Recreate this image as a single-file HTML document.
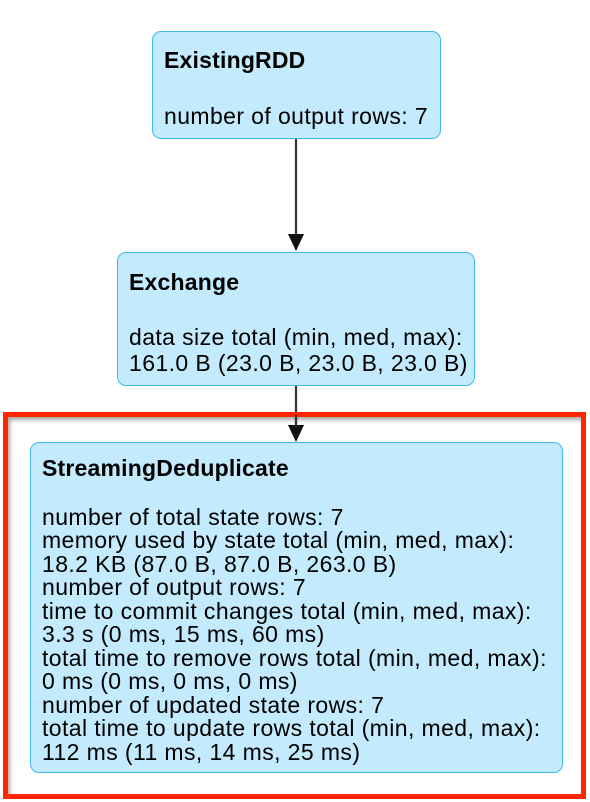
<!DOCTYPE html>
<html><head><style>
body{margin:0;width:590px;height:802px;background:#fff;position:relative;overflow:hidden;font-family:"Liberation Sans",Arial,sans-serif;color:#000}
.n{position:absolute;box-sizing:border-box;background:#c3eafd;border:1.5px solid #3fb7ef;border-radius:9px;font-size:23px;letter-spacing:0.4px;line-height:23.5px;padding:0 0 0 11px;white-space:nowrap}
.n b{display:block;font-size:23px;letter-spacing:0.2px}
.red{position:absolute;left:3px;top:412px;width:583px;height:387px;box-sizing:border-box;border:5px solid #ff2600;box-shadow:inset 2px 3px 4px rgba(0,0,0,.35)}
</style></head><body>
<svg width="590" height="802" style="position:absolute;left:0;top:0">
<line x1="296" y1="139" x2="296" y2="236" stroke="#333" stroke-width="2.2"/>
<polygon points="288,234 304,234 296,251" fill="#111"/>
<line x1="296" y1="386" x2="296" y2="427" stroke="#333" stroke-width="2.2"/>
</svg>
<div class="red"></div>
<svg width="590" height="802" style="position:absolute;left:0;top:0">
<line x1="296" y1="415" x2="296" y2="427" stroke="#333" stroke-width="2.2"/>
<polygon points="288,425 304,425 296,442" fill="#111"/>
</svg>
<div class="n" style="left:152px;top:31px;width:289px;height:108px;padding-top:17px"><b>ExistingRDD</b><div style="margin-top:32px">number of output rows: 7</div></div>
<div class="n" style="left:117px;top:252px;width:358px;height:134px;padding-top:18px"><b>Exchange</b><div style="margin-top:29px;line-height:26px">data size total (min, med, max):<br>161.0 B (23.0 B, 23.0 B, 23.0 B)</div></div>
<div class="n" style="left:30px;top:442px;width:533px;height:331px;padding-top:14px"><b>StreamingDeduplicate</b><div style="margin-top:25px">number of total state rows: 7<br>memory used by state total (min, med, max):<br>18.2 KB (87.0 B, 87.0 B, 263.0 B)<br>number of output rows: 7<br>time to commit changes total (min, med, max):<br>3.3 s (0 ms, 15 ms, 60 ms)<br>total time to remove rows total (min, med, max):<br>0 ms (0 ms, 0 ms, 0 ms)<br>number of updated state rows: 7<br>total time to update rows total (min, med, max):<br>112 ms (11 ms, 14 ms, 25 ms)</div></div>
</body></html>
